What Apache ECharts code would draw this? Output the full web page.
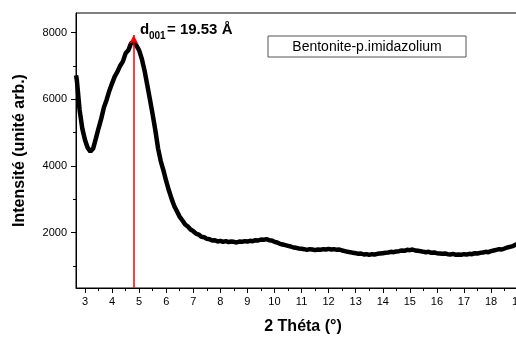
<!DOCTYPE html>
<html><head><meta charset="utf-8">
<script src="https://cdn.jsdelivr.net/npm/echarts/dist/echarts.min.js"></script>
<style>html,body{margin:0;padding:0;background:#fff;overflow:hidden;width:516px;height:340px}#c{width:530px;height:340px}</style>
</head><body><div id="c"></div>
<script>
const theta = [2.67,2.7,2.8,2.9,3.0,3.1,3.2,3.3,3.4,3.5,3.6,3.7,3.8,3.9,4.0,4.1,4.2,4.3,4.4,4.5,4.6,4.7,4.8,4.9,
5.0,5.1,5.2,5.3,5.4,5.5,5.6,5.7,5.8,5.9,6.0,6.1,6.2,6.3,6.4,6.5,6.6,6.7,6.8,6.9,
7.0,7.1,7.2,7.3,7.4,7.5,7.6,7.7,7.8,7.9,8.0,8.1,8.2,8.3,8.4,8.5,8.6,8.7,8.8,8.9,
9.0,9.1,9.2,9.3,9.4,9.5,9.6,9.7,9.8,9.9,10.0,10.1,10.2,10.3,10.4,10.5,10.6,10.7,10.8,10.9,
11.0,11.1,11.2,11.3,11.4,11.5,11.6,11.7,11.8,11.9,12.0,12.1,12.2,12.3,12.4,12.5,12.6,12.7,12.8,12.9,
13.0,13.1,13.2,13.3,13.4,13.5,13.6,13.7,13.8,13.9,14.0,14.1,14.2,14.3,14.4,14.5,14.6,14.7,14.8,14.9,
15.0,15.1,15.2,15.3,15.4,15.5,15.6,15.7,15.8,15.9,16.0,16.1,16.2,16.3,16.4,16.5,16.6,16.7,16.8,16.9,
17.0,17.1,17.2,17.3,17.4,17.5,17.6,17.7,17.8,17.9,18.0,18.1,18.2,18.3,18.4,18.5,18.6,18.7,18.8,18.9,19.0,19.1];
const intensity = [6720,6560,5680,5120,4780,4540,4430,4520,4820,5130,5420,5760,5990,6260,6480,6690,6830,7010,7140,7380,7470,7680,7720,7610,
7470,7210,6860,6430,5990,5540,5060,4520,4140,3860,3540,3260,3010,2790,2630,2470,2360,2240,2180,2090,
2040,1970,1940,1870,1860,1810,1800,1760,1770,1730,1750,1720,1740,1710,1730,1720,1700,1730,1720,1740,
1730,1750,1740,1770,1760,1790,1780,1800,1770,1760,1720,1700,1660,1640,1620,1600,1580,1550,1540,1520,
1510,1500,1480,1500,1490,1470,1490,1480,1500,1490,1510,1490,1500,1480,1490,1460,1440,1420,1410,1390,
1380,1360,1370,1340,1350,1330,1350,1340,1360,1370,1380,1390,1400,1420,1410,1430,1440,1460,1450,1480,
1470,1490,1460,1450,1440,1420,1410,1420,1390,1400,1380,1370,1360,1370,1350,1340,1360,1330,1340,1330,
1350,1340,1360,1350,1380,1370,1390,1400,1420,1410,1440,1460,1480,1500,1490,1520,1550,1570,1590,1630,1660,1690];
const xTickValues = [3,4,5,6,7,8,9,10,11,12,13,14,15,16,17,18,19];
const xMinorTickValues = [3.5,4.5,5.5,6.5,7.5,8.5,9.5,10.5,11.5,12.5,13.5,14.5,15.5,16.5,17.5,18.5];
const yTickValues = [2000,4000,6000,8000];
const yMinorTickValues = [1000,3000,5000,7000];
const xMin = 2.667, xMax = 19.44;
const yMin = 334, yMax = 8592;
const peakTheta = 4.8;
const peakArrowTop = 7930;
const seriesName = 'Bentonite-p.imidazolium';
const xTitle = '2 Théta (°)';
const yTitle = 'Intensité (unité arb.)';

const F = 'Liberation Sans, Arial, sans-serif';
const chart = echarts.init(document.getElementById('c'), null, {renderer:'canvas'});
const pts = theta.map((t,i)=>[t,intensity[i]]);
const axLine = {show:true, lineStyle:{color:'#000', width:1}};
const plain = v => String(v);
chart.setOption({
  animation:false,
  backgroundColor:'#fff',
  grid:{left:76, top:13, right:0, bottom:48, show:true, borderColor:'#000', borderWidth:1},
  xAxis:[
    {type:'value', min:xMin, max:xMax, position:'bottom', axisLine:axLine,
     axisTick:{show:true, length:5, customValues:xTickValues, lineStyle:{color:'#000'}},
     axisLabel:{customValues:xTickValues, formatter:plain, color:'#000', fontSize:11, fontFamily:F, margin:8},
     splitLine:{show:false},
     name:xTitle, nameLocation:'middle', nameGap:31,
     nameTextStyle:{fontSize:16, fontWeight:'bold', color:'#000', fontFamily:F}},
    {type:'value', min:xMin, max:xMax, position:'bottom', axisLine:{show:false},
     axisTick:{show:true, length:3, customValues:xMinorTickValues, lineStyle:{color:'#000'}},
     axisLabel:{show:false}, splitLine:{show:false}}
  ],
  yAxis:[
    {type:'value', min:yMin, max:yMax, position:'left', axisLine:axLine,
     axisTick:{show:true, length:5, customValues:yTickValues, lineStyle:{color:'#000'}},
     axisLabel:{customValues:yTickValues, formatter:plain, color:'#000', fontSize:11, fontFamily:F, margin:9},
     splitLine:{show:false},
     name:yTitle, nameLocation:'middle', nameGap:48,
     nameTextStyle:{fontSize:16, fontWeight:'bold', color:'#000', fontFamily:F}},
    {type:'value', min:yMin, max:yMax, position:'left', axisLine:{show:false},
     axisTick:{show:true, length:3, customValues:yMinorTickValues, lineStyle:{color:'#000'}},
     axisLabel:{show:false}, splitLine:{show:false}}
  ],
  series:[{
    name:seriesName, type:'line', xAxisIndex:0, yAxisIndex:0, data:pts, showSymbol:false,
    lineStyle:{color:'#000', width:4.5}, clip:true,
    markLine:{silent:true, symbol:['none','arrow'], symbolSize:[7,9], animation:false,
      lineStyle:{color:'#ff0000', width:1.5, type:'solid'}, label:{show:false},
      data:[[{coord:[peakTheta, yMin]},{coord:[peakTheta, peakArrowTop]}]]}
  }],
  graphic:[
    {type:'rect', shape:{x:268, y:36, width:198, height:21}, style:{fill:'#fff', stroke:'#555', lineWidth:1}, z:100},
    {type:'text', x:367, y:47, z:101, style:{text:seriesName, font:'14px '+F, fill:'#000', textAlign:'center', textVerticalAlign:'middle'}},
    {type:'text', x:140, y:29.7, z:101, style:{text:'d', font:'bold 15px '+F, fill:'#000', textAlign:'left', textVerticalAlign:'middle'}},
    {type:'text', x:149, y:36.7, z:101, style:{text:'001', font:'bold 10px '+F, fill:'#000', textAlign:'left', textVerticalAlign:'middle'}},
    {type:'text', x:167, y:30, z:101, style:{text:'= 19.53 Å', font:'bold 15px '+F, fill:'#000', textAlign:'left', textVerticalAlign:'middle'}}
  ]
});
</script></body></html>
